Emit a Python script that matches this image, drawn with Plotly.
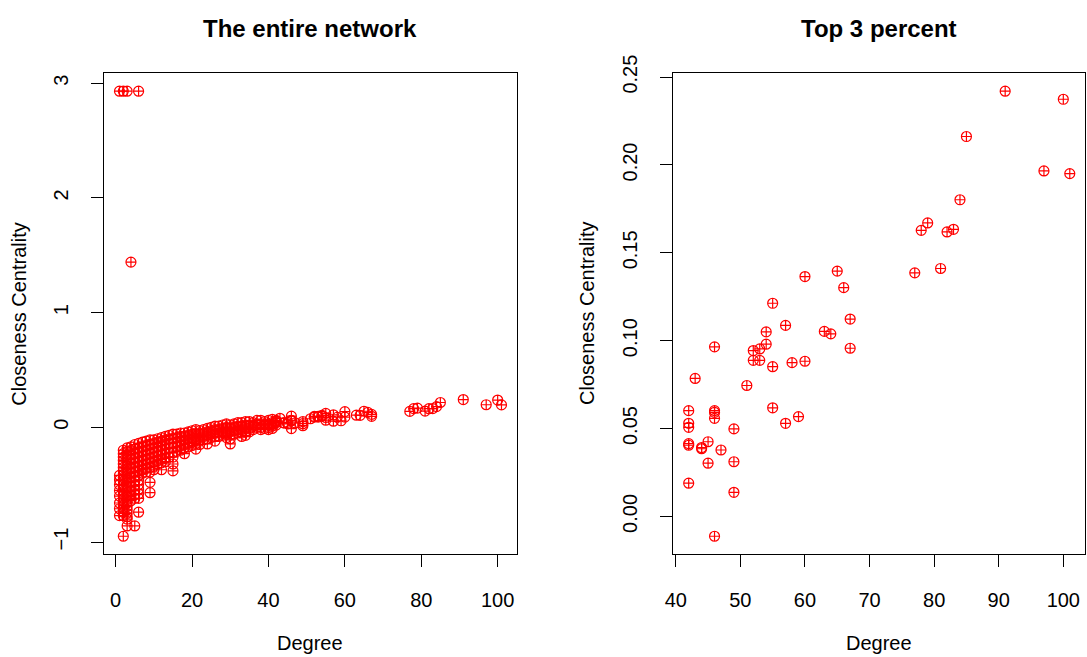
import plotly.graph_objects as go

# ---- Top 3 percent of nodes by degree: (degree, closeness centrality) ----
top_degree = [42, 42, 42, 42, 42, 42, 43, 44, 44, 45, 45, 46, 46, 46, 46, 46,
              47, 49, 49, 49, 51, 52, 52, 53, 53, 54, 54, 55, 55, 55, 57, 57,
              58, 59, 60, 60, 63, 64, 65, 66, 67, 67, 77, 78, 79, 81, 82, 83,
              84, 85, 91, 97, 100, 101]
top_closeness = [0.0602, 0.0530, 0.0507, 0.0414, 0.0405, 0.0189, 0.0785, 0.0392,
                 0.0385, 0.0425, 0.0303, 0.0965, 0.0602, 0.0592, 0.0558, -0.0113,
                 0.0378, 0.0498, 0.0311, 0.0137, 0.0745, 0.0944, 0.0888, 0.0953,
                 0.0888, 0.1050, 0.0980, 0.1213, 0.0852, 0.0618, 0.1087, 0.0530,
                 0.0875, 0.0568, 0.1365, 0.0883, 0.1053, 0.1039, 0.1396, 0.1302,
                 0.1123, 0.0957, 0.1386, 0.1628, 0.1670, 0.1411, 0.1619, 0.1634,
                 0.1802, 0.2162, 0.2420, 0.1966, 0.2374, 0.1951]

# ---- Isolated high-closeness nodes of low degree ----
outlier_degree = [1, 2, 3, 6, 4]
outlier_closeness = [2.93, 2.93, 2.93, 2.93, 1.44]

# ---- Remaining low-degree nodes, closeness values grouped by degree ----
low_degree_closeness = {
    1: [-0.42, -0.46, -0.50, -0.55, -0.60, -0.66, -0.71, -0.77],
    2: [-0.20, -0.23, -0.26, -0.29, -0.32, -0.35, -0.38, -0.41, -0.44, -0.47, -0.50,
        -0.53, -0.56, -0.59, -0.62, -0.65, -0.68, -0.71, -0.74, -0.77, -0.95],
    3: [-0.18, -0.21, -0.24, -0.27, -0.30, -0.33, -0.36, -0.39, -0.42, -0.45, -0.48,
        -0.51, -0.54, -0.57, -0.60, -0.63, -0.66, -0.69, -0.72, -0.75, -0.78, -0.80, -0.86],
    4: [-0.17, -0.20, -0.24, -0.28, -0.32, -0.36, -0.40, -0.44, -0.48, -0.52, -0.56, -0.60, -0.64],
    5: [-0.15, -0.19, -0.23, -0.27, -0.31, -0.35, -0.39, -0.43, -0.47, -0.51, -0.55, -0.59, -0.62, -0.86],
    6: [-0.14, -0.18, -0.22, -0.26, -0.30, -0.34, -0.38, -0.42, -0.46, -0.50, -0.54, -0.58, -0.62, -0.74],
    7: [-0.13, -0.17, -0.21, -0.25, -0.29, -0.33, -0.37, -0.40],
    8: [-0.12, -0.16, -0.20, -0.24, -0.28, -0.32, -0.36, -0.39],
    9: [-0.11, -0.15, -0.19, -0.23, -0.27, -0.31, -0.35, -0.39, -0.48, -0.57],
    10: [-0.11, -0.14, -0.18, -0.22, -0.26, -0.30, -0.34, -0.37],
    11: [-0.10, -0.13, -0.17, -0.21, -0.25, -0.29, -0.32],
    12: [-0.09, -0.12, -0.16, -0.20, -0.24, -0.28, -0.31, -0.37],
    13: [-0.08, -0.11, -0.15, -0.19, -0.23, -0.27, -0.30],
    14: [-0.07, -0.10, -0.14, -0.18, -0.22, -0.26],
    15: [-0.06, -0.10, -0.14, -0.18, -0.22, -0.26, -0.32, -0.38],
    16: [-0.06, -0.09, -0.13, -0.17, -0.21],
    17: [-0.05, -0.08, -0.12, -0.16, -0.20],
    18: [-0.05, -0.08, -0.11, -0.15, -0.18, -0.23],
    19: [-0.04, -0.07, -0.10, -0.14, -0.17],
    20: [-0.03, -0.06, -0.09, -0.13, -0.16],
    21: [-0.02, -0.05, -0.08, -0.11, -0.14, -0.19],
    22: [-0.03, -0.06, -0.09, -0.12, -0.15],
    23: [-0.02, -0.05, -0.08, -0.11],
    24: [-0.01, -0.04, -0.07, -0.10, -0.145],
    25: [0.00, -0.03, -0.06, -0.09],
    26: [0.01, -0.02, -0.05, -0.08, -0.12],
    27: [0.01, -0.02, -0.05, -0.08],
    28: [0.02, -0.01, -0.04, -0.07],
    29: [0.03, 0.00, -0.03, -0.06, -0.09],
    30: [0.02, -0.01, -0.04, -0.07, -0.10, -0.145],
    31: [0.03, 0.00, -0.03, -0.06],
    32: [0.04, 0.01, -0.02, -0.05],
    33: [0.04, 0.01, -0.02, -0.05, -0.08],
    34: [0.05, 0.02, -0.01, -0.04, -0.07],
    35: [0.05, 0.02, -0.01, -0.04],
    36: [0.04, 0.01, -0.02],
    37: [0.06, 0.03, 0.00],
    38: [0.06, 0.03, 0.00, -0.02],
    39: [0.05, 0.02, -0.01],
    40: [0.06, 0.03, 0.00, -0.02],
    41: [0.07, 0.04, 0.01, -0.01],
}

# Whole network = low-degree nodes + isolated nodes + top nodes
all_degree, all_closeness = [], []
for deg, vals in low_degree_closeness.items():
    for v in vals:
        all_degree.append(deg)
        all_closeness.append(v)
all_degree += outlier_degree + top_degree
all_closeness += outlier_closeness + top_closeness


def padded(values, frac=0.04):
    """Axis range with a 4% margin on each side of the data."""
    lo, hi = min(values), max(values)
    span = hi - lo
    return [lo - frac * span, hi + frac * span]


W, H = 1087, 657
FONT = "Liberation Sans, Arial, sans-serif"
RED = "#ff0000"
LABEL_SIZE = 20
TITLE_SIZE = 24

# Plot boxes in pixels (left, right, top, bottom)
boxes = [(96, 512, 56, 551), (670, 1085, 56, 551)]
TITLE_Y = 10
XLAB_Y = 643
YLAB_X = [10, 583]


def px_x(p):
    return p / W


def px_y(p):
    return 1 - p / H


marker = dict(symbol="circle-cross-open", size=10, color=RED,
              line=dict(width=1.2, color=RED))

fig = go.Figure()
fig.add_trace(go.Scatter(x=all_degree, y=all_closeness, mode="markers",
                         marker=marker, xaxis="x", yaxis="y", showlegend=False))
fig.add_trace(go.Scatter(x=top_degree, y=top_closeness, mode="markers",
                         marker=marker, xaxis="x2", yaxis="y2", showlegend=False))

axis_common = dict(showgrid=False, zeroline=False, showline=True, mirror=True,
                   linecolor="#000000", linewidth=1, ticks="outside", ticklen=12,
                   tickwidth=1, tickcolor="#000000",
                   tickfont=dict(family=FONT, size=LABEL_SIZE, color="#000000"))

b1, b2 = boxes
fig.update_layout(
    width=W, height=H, autosize=False,
    margin=dict(l=0, r=0, t=0, b=0),
    paper_bgcolor="white", plot_bgcolor="white",
    xaxis=dict(domain=[px_x(b1[0]), px_x(b1[1])], range=padded(all_degree),
               tick0=0, dtick=20, anchor="y", ticklabelstandoff=16, **axis_common),
    yaxis=dict(domain=[px_y(b1[3]), px_y(b1[2])], range=padded(all_closeness),
               tick0=0, dtick=1, anchor="x", tickangle=-90, ticklabelstandoff=15,
               **axis_common),
    xaxis2=dict(domain=[px_x(b2[0]), px_x(b2[1])], range=padded(top_degree),
                tick0=0, dtick=10, anchor="y2", ticklabelstandoff=16, **axis_common),
    yaxis2=dict(domain=[px_y(b2[3]), px_y(b2[2])], range=padded(top_closeness),
                tick0=0, dtick=0.05, tickformat=".2f", anchor="x2", tickangle=-90,
                ticklabelstandoff=15, **axis_common),
)

titles = ["The entire network", "Top 3 percent"]
for (l, r, t, b), title, yx in zip(boxes, titles, YLAB_X):
    cx = (l + r) / 2
    fig.add_annotation(text="<b>%s</b>" % title, x=px_x(cx), y=px_y(TITLE_Y),
                       xref="paper", yref="paper", showarrow=False,
                       xanchor="center", yanchor="middle",
                       font=dict(family=FONT, size=TITLE_SIZE, color="#000000"))
    fig.add_annotation(text="Degree", x=px_x(cx), y=px_y(XLAB_Y),
                       xref="paper", yref="paper", showarrow=False,
                       xanchor="center", yanchor="middle",
                       font=dict(family=FONT, size=LABEL_SIZE, color="#000000"))
    fig.add_annotation(text="Closeness Centrality", x=px_x(yx), y=px_y((t + b) / 2),
                       xref="paper", yref="paper", showarrow=False, textangle=-90,
                       xanchor="center", yanchor="middle",
                       font=dict(family=FONT, size=LABEL_SIZE, color="#000000"))

fig.write_html("out.html")
